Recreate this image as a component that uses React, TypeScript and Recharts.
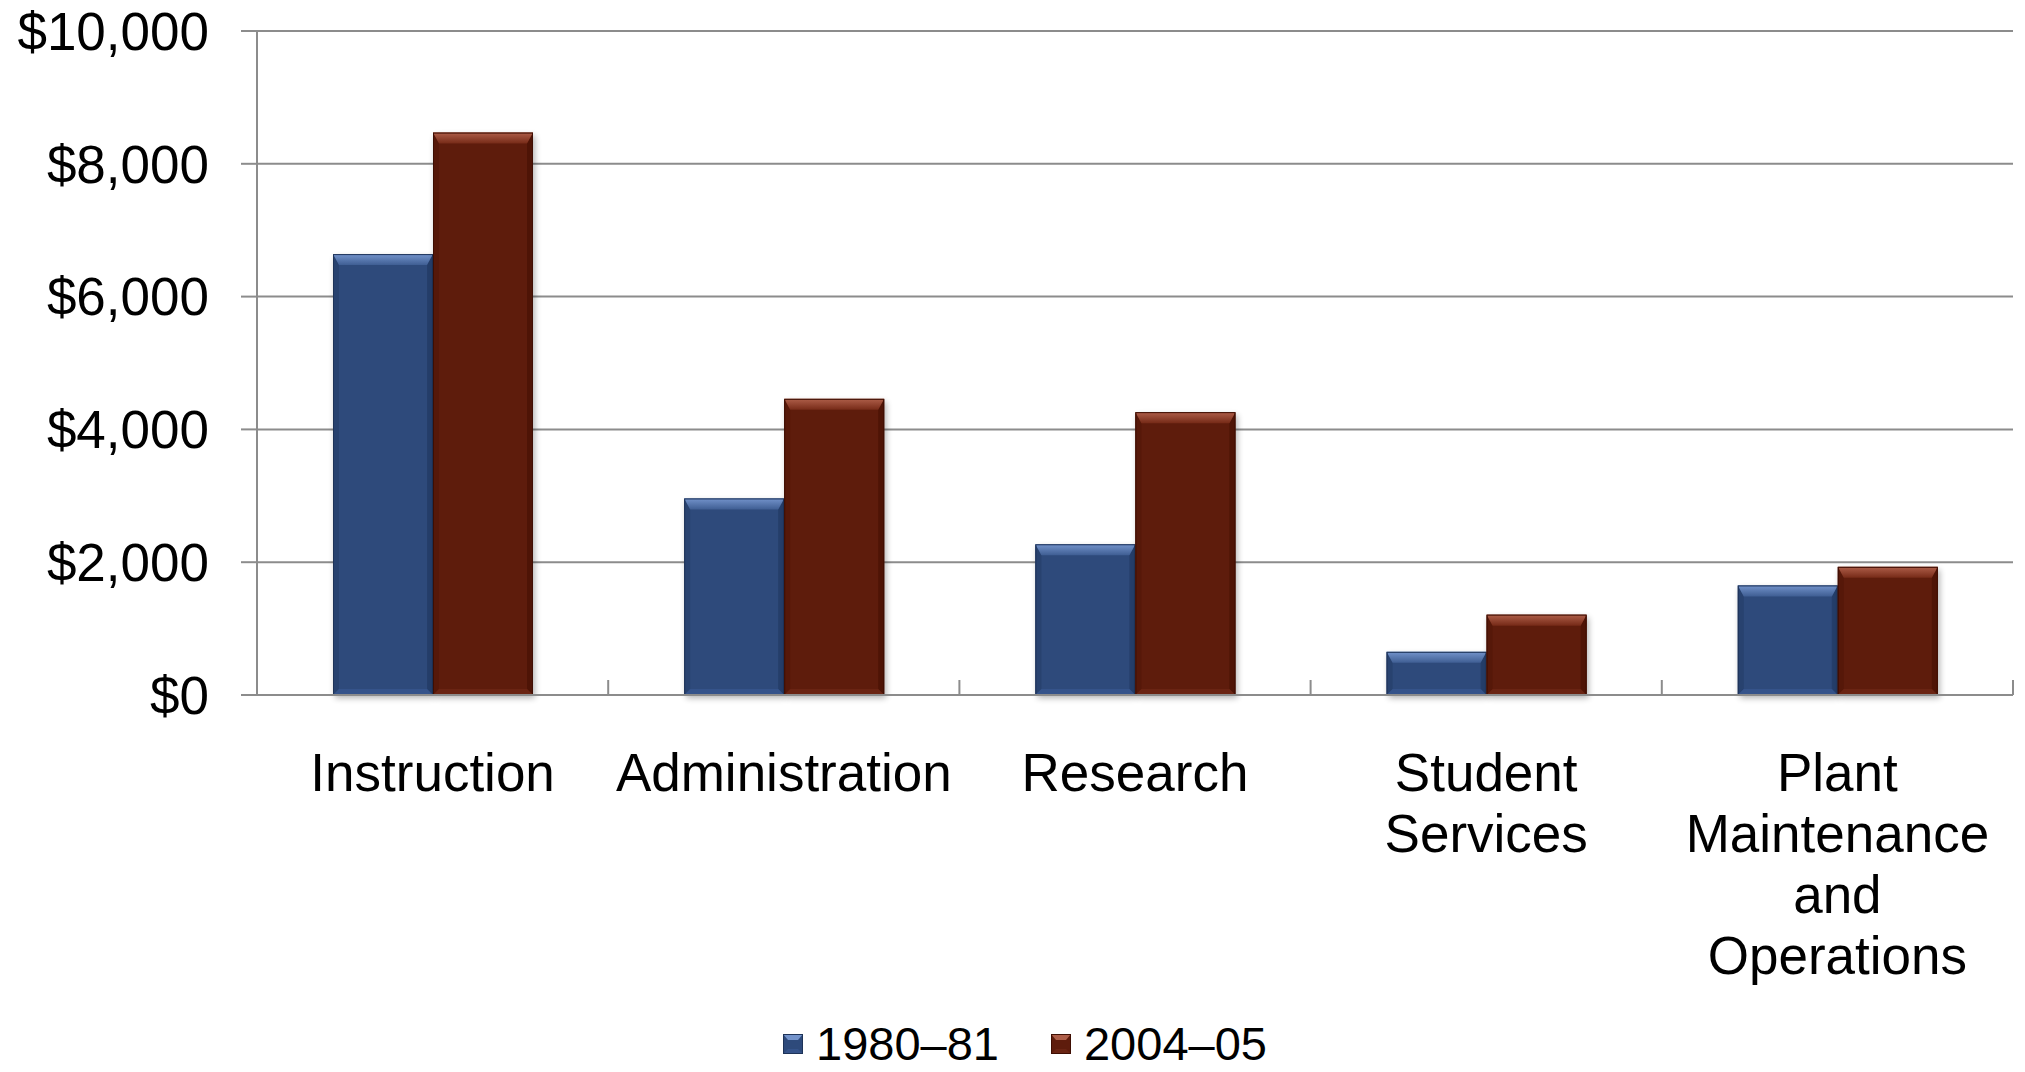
import React from 'react';
import { BarChart, Bar, XAxis, YAxis, CartesianGrid, Legend } from 'recharts';

// ---------- data ----------
const categories = [
  'Instruction',
  'Administration',
  'Research',
  'Student Services',
  'Plant Maintenance and Operations',
];
const categoryLines = [
  ['Instruction'],
  ['Administration'],
  ['Research'],
  ['Student', 'Services'],
  ['Plant', 'Maintenance', 'and', 'Operations'],
];
const series1980 = [6640, 2960, 2270, 650, 1650];
const series2004 = [8470, 4460, 4260, 1210, 1930];
const seriesNames = ['1980–81', '2004–05'];
const yTicks = [0, 2000, 4000, 6000, 8000, 10000];

const data = categories.map((c, i) => ({
  category: c,
  s1980: series1980[i],
  s2004: series2004[i],
}));

// ---------- styles ----------
const FONT = '"Liberation Sans", Arial, Helvetica, sans-serif';
const GRID = '#8C8C8C';

const palettes = {
  blue: {
    id: 'blue',
    main: '#2E4A7B',
    topA: '#7393CB',
    topB: '#3F5E93',
    left: '#28426F',
    right: '#253E6A',
    bottom: '#35538A',
    edge: '#1E3358',
  },
  red: {
    id: 'red',
    main: '#5E1C0C',
    topA: '#AE5E49',
    topB: '#762A17',
    left: '#561809',
    right: '#4E1406',
    bottom: '#6A2413',
    edge: '#3E0E03',
  },
};

const makeBevel = (pal: any) => (props: any) => {
  const { x, y, width: w, height: h } = props;
  if (!h || h <= 0 || !w) return null;
  const bt = Math.min(11, h / 2);
  const bs = Math.min(6, w / 2, h / 2);
  return (
    <g>
      <rect x={x + 2} y={y + 3} width={w} height={h} fill="#000" opacity={0.3} filter="url(#barShadow)" />
      <rect x={x} y={y} width={w} height={h} fill={pal.main} />
      <polygon
        points={`${x},${y} ${x + bs},${y + bt} ${x + bs},${y + h - bs} ${x},${y + h}`}
        fill={pal.left}
      />
      <polygon
        points={`${x + w},${y} ${x + w},${y + h} ${x + w - bs},${y + h - bs} ${x + w - bs},${y + bt}`}
        fill={pal.right}
      />
      <polygon
        points={`${x},${y + h} ${x + w},${y + h} ${x + w - bs},${y + h - bs} ${x + bs},${y + h - bs}`}
        fill={pal.bottom}
      />
      <polygon
        points={`${x},${y} ${x + w},${y} ${x + w - bs},${y + bt} ${x + bs},${y + bt}`}
        fill={`url(#top-${pal.id})`}
      />
      <rect x={x + 0.5} y={y + 0.5} width={w - 1} height={h - 1} fill="none" stroke={pal.edge} strokeWidth={1} />
    </g>
  );
};

const BlueShape = makeBevel(palettes.blue);
const RedShape = makeBevel(palettes.red);

const XTick = (props: any) => {
  const { x, y, payload, index } = props;
  const lines = categoryLines[index] ?? [String(payload.value)];
  const half = payload && typeof payload.offset === 'number' && payload.offset > 0 ? payload.offset : 175.6;
  return (
    <g>
      <line x1={x + half} x2={x + half} y1={y - 15} y2={y} stroke={GRID} strokeWidth={2} />
      <text x={x} y={y + 96} textAnchor="middle" fontSize={53} fontFamily={FONT} fill="#000">
        {lines.map((l: string, i: number) => (
          <tspan key={i} x={x} dy={i === 0 ? 0 : 61}>
            {l}
          </tspan>
        ))}
      </text>
    </g>
  );
};

const yFormat = (v: number) => '$' + v.toLocaleString('en-US');

const LegendSwatch = ({ pal }: any) => (
  <svg width={20} height={20} style={{ display: 'block' }}>
    <rect x={0} y={0} width={20} height={20} fill={pal.main} />
    <polygon points="0,0 20,0 15,6 5,6" fill={pal.topA} />
    <polygon points="0,20 20,20 15,15 5,15" fill={pal.bottom} />
    <rect x={0.5} y={0.5} width={19} height={19} fill="none" stroke={pal.edge} strokeWidth={1} />
  </svg>
);

const LegendContent = () => (
  <div
    style={{
      display: 'flex',
      alignItems: 'center',
      height: 56,
      paddingLeft: 783,
      fontFamily: FONT,
      fontSize: 47,
      lineHeight: '40px',
      color: '#000',
    }}
  >
    <LegendSwatch pal={palettes.blue} />
    <span style={{ marginLeft: 13, lineHeight: '40px', height: 40 }}>{seriesNames[0]}</span>
    <div style={{ width: 52 }} />
    <LegendSwatch pal={palettes.red} />
    <span style={{ marginLeft: 13, lineHeight: '40px', height: 40 }}>{seriesNames[1]}</span>
  </div>
);

export default function App() {
  return (
    <div style={{ position: 'absolute', left: 0, top: 0, width: 2025, height: 1072, background: '#fff', overflow: 'hidden' }}>
      <BarChart
        width={2025}
        height={1072}
        data={data}
        margin={{ top: 31, right: 12, bottom: 0, left: 0 }}
        barGap={0}
        barSize={100}
      >
        <defs>
          <linearGradient id="top-blue" x1="0" y1="0" x2="0" y2="1">
            <stop offset="0%" stopColor={palettes.blue.topA} />
            <stop offset="100%" stopColor={palettes.blue.topB} />
          </linearGradient>
          <linearGradient id="top-red" x1="0" y1="0" x2="0" y2="1">
            <stop offset="0%" stopColor={palettes.red.topA} />
            <stop offset="100%" stopColor={palettes.red.topB} />
          </linearGradient>
          <filter id="barShadow" x="-20%" y="-20%" width="140%" height="140%">
            <feGaussianBlur stdDeviation="3" />
          </filter>
        </defs>
        <CartesianGrid vertical={false} stroke={GRID} strokeWidth={2} />
        <XAxis
          dataKey="category"
          height={321}
          interval={0}
          tickLine={false}
          tickSize={0}
          tickMargin={0}
          axisLine={{ stroke: GRID, strokeWidth: 2 }}
          tick={<XTick />}
        />
        <YAxis
          width={257}
          domain={[0, 10000]}
          ticks={yTicks}
          interval={0}
          tickFormatter={yFormat}
          axisLine={{ stroke: GRID, strokeWidth: 2 }}
          tickLine={{ stroke: GRID, strokeWidth: 2 }}
          tickSize={16}
          tickMargin={32}
          tick={{ fontSize: 53, fontFamily: FONT, fill: '#000' }}
        />
        <Legend verticalAlign="bottom" align="left" content={<LegendContent />} />
        <Bar dataKey="s1980" name={seriesNames[0]} fill={palettes.blue.main} shape={<BlueShape />} isAnimationActive={false} />
        <Bar dataKey="s2004" name={seriesNames[1]} fill={palettes.red.main} shape={<RedShape />} isAnimationActive={false} />
      </BarChart>
    </div>
  );
}
